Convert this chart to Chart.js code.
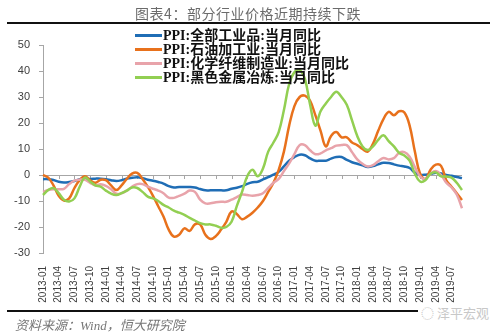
<!DOCTYPE html>
<html>
<head>
<meta charset="utf-8">
<script src="https://cdn.jsdelivr.net/npm/chart.js@4"></script>
<style>
  body { margin: 0; background: #fff; }
  #wrap { position: relative; width: 500px; height: 334px; background: #fff; overflow: hidden; }
  #c { position: absolute; left: 0; top: 0; }
  .title { position: absolute; left: 0; width: 496px; top: 3px; line-height: 18px; text-align: center;
           font: 14px "Noto Sans CJK SC", sans-serif; color: #6b6b6b; letter-spacing: 0.5px; }
  .rule { position: absolute; left: 7px; width: 483px; background: #111; }
  .rule.top { top: 22px; height: 2px; }
  .rule.bottom { top: 310px; height: 2px; }
  #legend { position: absolute; left: 135px; top: 24px; }
  #legend .row { height: 14px; line-height: 14px; white-space: nowrap;
                 font: bold 14px "Liberation Serif", "Noto Sans CJK SC", serif; color: #111; }
  #legend .sw { display: inline-block; width: 27px; height: 3px; vertical-align: middle; margin-right: 1px; position: relative; top: -1px; }
  .source { position: absolute; left: 15px; top: 315px; line-height: 14px; font: italic 13px "Liberation Serif", "Noto Sans CJK SC", serif; color: #777; }
  .mark { position: absolute; left: 418px; top: 303px; line-height: 16px; font: 13px "Noto Sans CJK SC", sans-serif; color: #c8c8c8; background: #fff; padding: 0 3px; }
</style>
</head>
<body>
<div id="wrap">
  <canvas id="c" width="500" height="334"></canvas>
  <div class="title">图表4：部分行业价格近期持续下跌</div>
  <div class="rule top"></div>
  <div id="legend"></div>
  <div class="rule bottom"></div>
  <div class="source">资料来源：Wind，恒大研究院</div>
  <div class="mark">◌ 泽平宏观</div>
</div>
<script>
// 月份 2013-01 ~ 2019-09
const months = [
  '2013-01','2013-02','2013-03','2013-04','2013-05','2013-06','2013-07','2013-08','2013-09','2013-10','2013-11','2013-12',
  '2014-01','2014-02','2014-03','2014-04','2014-05','2014-06','2014-07','2014-08','2014-09','2014-10','2014-11','2014-12',
  '2015-01','2015-02','2015-03','2015-04','2015-05','2015-06','2015-07','2015-08','2015-09','2015-10','2015-11','2015-12',
  '2016-01','2016-02','2016-03','2016-04','2016-05','2016-06','2016-07','2016-08','2016-09','2016-10','2016-11','2016-12',
  '2017-01','2017-02','2017-03','2017-04','2017-05','2017-06','2017-07','2017-08','2017-09','2017-10','2017-11','2017-12',
  '2018-01','2018-02','2018-03','2018-04','2018-05','2018-06','2018-07','2018-08','2018-09','2018-10','2018-11','2018-12',
  '2019-01','2019-02','2019-03','2019-04','2019-05','2019-06','2019-07','2019-08','2019-09'
];

const seriesNames = [
  'PPI:全部工业品:当月同比',
  'PPI:石油加工业:当月同比',
  'PPI:化学纤维制造业:当月同比',
  'PPI:黑色金属冶炼:当月同比'
];
const seriesColors = ['#1f6db5', '#e8711c', '#e8a3aa', '#92cf52'];

const ppiAll = [
  -1.6,-1.6,-1.9,-2.6,-2.9,-2.7,-2.3,-1.6,-1.3,-1.5,-1.4,-1.4,
  -1.6,-2.0,-2.3,-2.0,-1.4,-1.1,-0.9,-1.2,-1.8,-2.2,-2.7,-3.3,
  -4.3,-4.8,-4.6,-4.6,-4.6,-4.8,-5.4,-5.9,-5.9,-5.9,-5.9,-5.9,
  -5.3,-4.9,-4.3,-3.4,-2.8,-2.6,-1.7,-0.8,0.1,1.2,3.3,5.5,
  6.9,7.8,7.6,6.4,5.5,5.5,5.5,6.3,6.9,6.9,5.8,4.9,
  4.3,3.7,3.1,3.4,4.1,4.7,4.6,4.1,3.6,3.3,2.7,0.9,
  0.1,0.1,0.4,0.9,0.6,0.0,-0.3,-0.8,-1.2
];
const ppiOil = [
  0,-1,-4,-8,-9.8,-9,-5,-2,-0.5,-2,-3,-1.8,
  -2,-4,-5.8,-4,-1.5,0.5,0.8,-1.5,-4.5,-8,-12,-16,
  -21,-23.7,-23,-20.5,-21.5,-19,-19,-23,-24.6,-23.5,-21,-18,
  -14,-15,-17,-16,-14.5,-12.5,-10,-6.5,-3,2,9,19,
  26.5,30,30.5,28.5,23,17,11,15,16.5,14.5,14.5,12.5,
  11.5,10,9,12,17,21.5,24.3,23,24.5,24,19,9,
  0.5,-1.5,2,4,3.5,-2,-4.5,-7,-9.6
];
const ppiFiber = [
  -6.5,-5.8,-5.5,-5.5,-5.3,-3.5,-2.2,-1.8,-1.8,-3,-4,-3.6,
  -4.2,-5.5,-7.2,-7,-6,-4.5,-3.5,-3.5,-4.5,-5.3,-6,-7,
  -8.7,-8.8,-8,-7.2,-6,-6.5,-9.5,-10.9,-10.9,-10.5,-10.3,-10.3,
  -9.5,-8.5,-7.5,-7.7,-8,-7.7,-7,-5,-3,-1.5,1.5,4.5,
  8,11.5,11.5,9.5,8,8.3,9.5,10.3,11.3,11.5,11.5,8.8,
  6,4.3,3.3,3.8,5.3,6.5,6,6.5,8.5,8.8,7,3,
  -0.5,-1.5,0.5,1.5,0,-3,-4.8,-7.5,-12.8
];
const ppiSteel = [
  -7.7,-5.8,-5,-7,-9.5,-10.2,-9,-4.5,-1,-2.5,-4,-4.5,
  -6,-7.2,-7.7,-7,-6,-4.8,-5,-6.5,-8.3,-9,-10,-11.5,
  -12.5,-13.7,-14.5,-15.3,-16.5,-17.5,-18.5,-19,-19,-19.5,-20.3,-20,
  -18,-12,-6.5,-0.5,2,-0.5,2.5,9,12.5,16.5,25,35,
  39.5,40.4,37,27,19,24.5,27.5,30,32,30,27,21,
  15,11,9.6,11,13.5,15.3,13,11,8.5,7.5,5.5,0.5,
  -2.5,-2,0.5,1,-0.5,-0.6,-1,-3,-5.8
];
const seriesData = [ppiAll, ppiOil, ppiFiber, ppiSteel];

const yMin = -30, yMax = 50, yStep = 10;
const axisGray = '#a6a6a6';
const tickFont = { family: '"Liberation Sans", sans-serif', size: 11 };

// 图例 (HTML)
function renderLegend() {
  const box = document.getElementById('legend');
  box.innerHTML = '';
  seriesNames.forEach((name, i) => {
    const row = document.createElement('div');
    row.className = 'row';
    row.innerHTML = `<span class="sw" style="background:${seriesColors[i]}"></span>${name}`;
    box.appendChild(row);
  });
}

// 0 轴上的小刻度
const zeroTicks = {
  id: 'zeroTicks',
  beforeDatasetsDraw(chart) {
    const { ctx, scales: { x, y } } = chart;
    const y0 = y.getPixelForValue(0);
    ctx.save();
    ctx.strokeStyle = axisGray;
    ctx.lineWidth = 1;
    months.forEach((m, i) => {
      if (i % 3) return;
      const px = Math.round(x.getPixelForValue(i)) + 0.5;
      ctx.beginPath();
      ctx.moveTo(px, y0);
      ctx.lineTo(px, y0 + 4);
      ctx.stroke();
    });
    ctx.restore();
  }
};

renderLegend();

new Chart(document.getElementById('c'), {
  type: 'line',
  data: {
    labels: months,
    datasets: seriesData.map((d, i) => ({
      label: seriesNames[i],
      data: d,
      borderColor: seriesColors[i],
      backgroundColor: seriesColors[i],
      borderWidth: 2.5,
      pointRadius: 0,
      tension: 0.4,
      fill: false,
      order: 4 - i
    }))
  },
  options: {
    responsive: false,
    animation: false,
    devicePixelRatio: 1,
    layout: { padding: { top: 45, right: 38, bottom: 0, left: 0 } },
    plugins: { legend: { display: false }, tooltip: { enabled: false } },
    scales: {
      x: {
        grid: { display: false },
        border: { display: false },
        afterFit: s => { s.height = 81; },
        ticks: {
          autoSkip: false,
          minRotation: 90,
          maxRotation: 90,
          padding: 5,
          color: '#404040',
          font: { family: '"Liberation Sans", sans-serif', size: 10 },
          callback: (v, i) => (i % 3 === 0 ? months[i] : '')
        }
      },
      y: {
        min: yMin,
        max: yMax,
        afterFit: s => { s.width = 43; },
        border: { color: axisGray },
        grid: {
          color: c => (c.tick && c.tick.value === 0 ? axisGray : 'rgba(0,0,0,0)'),
          tickColor: axisGray,
          tickLength: 4
        },
        ticks: { stepSize: yStep, padding: 9, color: '#404040', font: tickFont }
      }
    }
  },
  plugins: [zeroTicks]
});
</script>
</body>
</html>
